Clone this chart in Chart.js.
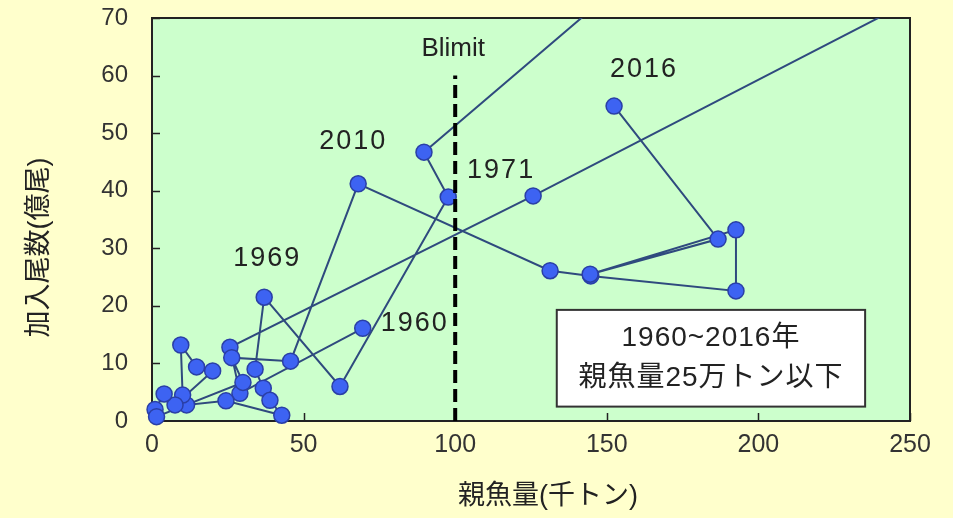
<!DOCTYPE html>
<html>
<head>
<meta charset="utf-8">
<script src="https://cdn.jsdelivr.net/npm/chart.js@4.4.1/dist/chart.umd.min.js"></script>
<style>
html, body { margin: 0; padding: 0; background: #FFFFCC; }
#wrap { width: 953px; height: 518px; }
</style>
</head>
<body>
<div id="wrap"><canvas id="chart" width="953" height="518"></canvas></div>
<script>
// spawning stock (thousand t) vs recruits (100 million fish), in drawing order
var spawn   = [69.5, 29.0, 25.7, 125.7, 350, 420, 89.7, 97.7, 62.0, 37.0,
               34.0, 36.7, 38.9, 42.8, 24.4, 11.4, 10.1, 9.5, 14.7, 20.0,
               7.6, 4.0, 1.0, 1.5, 30.0, 26.3, 45.7, 68.0, 131.3, 144.7,
               192.6, 192.6, 144.5, 186.7, 152.4];
var recruit = [16.1, 4.8, 12.8, 39.1, 100, 195, 46.7, 38.9, 6.0, 21.5,
               9.0, 5.7, 3.6, 1.0, 3.5, 2.8, 4.5, 13.2, 9.4, 8.7,
               2.8, 4.7, 2.0, 0.75, 6.7, 11.0, 10.4, 41.2, 26.1, 25.2,
               22.6, 33.2, 25.5, 31.6, 54.7];

var xTicks = [0, 50, 100, 150, 200, 250];
var yTicks = [0, 10, 20, 30, 40, 50, 60, 70];

var blimitX = [100, 100];
var blimitY = [0, 60];

var yearText  = ['1960', '1969', '1971', '2010', '2016'];
var yearIndex = [0, 9, 3, 27, 34];

var boxLines = ['1960~2016年', '親魚量25万トン以下'];
var xTitle = '親魚量(千トン)';
var yTitle = '加入尾数(億尾)';

var FONT = "'Liberation Sans', 'Noto Sans CJK JP', sans-serif";
var TEXT = '#222222';

var points = spawn.map(function (x, i) { return { x: x, y: recruit[i] }; });
var blimit = blimitX.map(function (x, i) { return { x: x, y: blimitY[i] }; });

var backgroundPlugin = {
    id: 'backgroundPlugin',
    beforeDraw: function (chart) {
        var ctx = chart.ctx, a = chart.chartArea;
        ctx.save();
        ctx.fillStyle = '#FFFFCC';
        ctx.fillRect(0, 0, chart.width, chart.height);
        ctx.fillStyle = '#CCFFCC';
        ctx.fillRect(a.left, a.top, a.right - a.left, a.bottom - a.top);
        ctx.restore();
    },
    beforeDatasetsDraw: function (chart) {
        var ctx = chart.ctx, a = chart.chartArea;
        var xs = chart.scales.x, ys = chart.scales.y;
        ctx.save();
        ctx.strokeStyle = '#222222';
        ctx.lineWidth = 2;
        ctx.strokeRect(a.left, a.top, a.right - a.left, a.bottom - a.top);
        ctx.lineWidth = 1.5;
        ctx.beginPath();
        yTicks.forEach(function (v) {
            var py = Math.round(ys.getPixelForValue(v)) + 0.5;
            ctx.moveTo(a.left, py);
            ctx.lineTo(a.left + 8, py);
        });
        xTicks.forEach(function (v) {
            var px = Math.round(xs.getPixelForValue(v)) + 0.5;
            ctx.moveTo(px, a.bottom);
            ctx.lineTo(px, a.bottom - 8);
        });
        ctx.stroke();
        ctx.restore();
    }
};

var notesPlugin = {
    id: 'notesPlugin',
    afterDatasetsDraw: function (chart) {
        var ctx = chart.ctx, a = chart.chartArea;
        var xs = chart.scales.x, ys = chart.scales.y;
        var offsets = [[52, -5], [3, -39], [-32, -25], [-5, -42], [30, -37]];
        ctx.save();
        ctx.fillStyle = TEXT;
        ctx.textAlign = 'center';
        ctx.textBaseline = 'middle';

        ctx.font = '27px ' + FONT;
        ctx.letterSpacing = '2px';
        yearText.forEach(function (t, i) {
            var k = yearIndex[i];
            var px = xs.getPixelForValue(spawn[k]) + offsets[i][0];
            var py = ys.getPixelForValue(recruit[k]) + offsets[i][1];
            ctx.fillText(t, px, py);
        });
        ctx.letterSpacing = '0px';

        ctx.font = '26px ' + FONT;
        ctx.fillText('Blimit', xs.getPixelForValue(100) - 2, ys.getPixelForValue(64.7));

        // note box
        var bl = xs.getPixelForValue(133.5), br = xs.getPixelForValue(235.2);
        var bt = ys.getPixelForValue(19.3), bb = ys.getPixelForValue(2.5);
        ctx.fillStyle = '#FFFFFF';
        ctx.fillRect(bl, bt, br - bl, bb - bt);
        ctx.strokeStyle = '#333333';
        ctx.lineWidth = 2;
        ctx.strokeRect(bl, bt, br - bl, bb - bt);
        ctx.fillStyle = TEXT;
        ctx.font = '28px ' + FONT;
        ctx.letterSpacing = '1px';
        ctx.fillText(boxLines[0], (bl + br) / 2, bt + 28);
        ctx.fillText(boxLines[1], (bl + br) / 2, bt + 68);
        ctx.letterSpacing = '0px';

        // axis titles
        ctx.font = '27px ' + FONT;
        ctx.fillText(xTitle, (a.left + a.right) / 2 + 17, 497);
        ctx.translate(40, (a.top + a.bottom) / 2 + 28);
        ctx.rotate(-Math.PI / 2);
        ctx.fillText(yTitle, 0, 0);
        ctx.restore();
    }
};

var chart = new Chart(document.getElementById('chart').getContext('2d'), {
    type: 'scatter',
    data: {
        datasets: [
            {
                data: blimit,
                showLine: true,
                borderColor: '#000000',
                borderWidth: 4,
                borderDash: [13, 6],
                pointRadius: 0,
                clip: 0
            },
            {
                data: points,
                showLine: true,
                borderColor: '#2F4A7E',
                borderWidth: 2,
                pointRadius: 8,
                pointBorderWidth: 1.5,
                pointBackgroundColor: '#3D63F2',
                pointBorderColor: '#2A3FA6',
                clip: { left: 12, top: 0, right: 0, bottom: 12 }
            }
        ]
    },
    options: {
        responsive: false,
        devicePixelRatio: 1,
        animation: false,
        layout: { padding: { top: 18, right: 43, left: 0, bottom: 0 } },
        plugins: {
            legend: { display: false },
            tooltip: { enabled: false }
        },
        scales: {
            x: {
                type: 'linear',
                min: 0,
                max: 250,
                afterBuildTicks: function (s) {
                    s.ticks = xTicks.map(function (v) { return { value: v }; });
                },
                afterFit: function (s) {
                    s.height = 97;
                    s.paddingLeft = 0;
                    s.paddingRight = 0;
                },
                grid: { display: false, drawTicks: false },
                border: { display: false },
                ticks: { padding: 9, color: '#333333', font: { size: 25, family: FONT } }
            },
            y: {
                type: 'linear',
                min: 0,
                max: 70,
                afterBuildTicks: function (s) {
                    s.ticks = yTicks.map(function (v) { return { value: v }; });
                },
                afterFit: function (s) {
                    s.width = 152;
                    s.paddingTop = 0;
                    s.paddingBottom = 0;
                },
                grid: { display: false, drawTicks: false },
                border: { display: false },
                ticks: { padding: 24, color: '#333333', font: { size: 24, family: FONT } }
            }
        }
    },
    plugins: [backgroundPlugin, notesPlugin]
});
</script>
</body>
</html>
